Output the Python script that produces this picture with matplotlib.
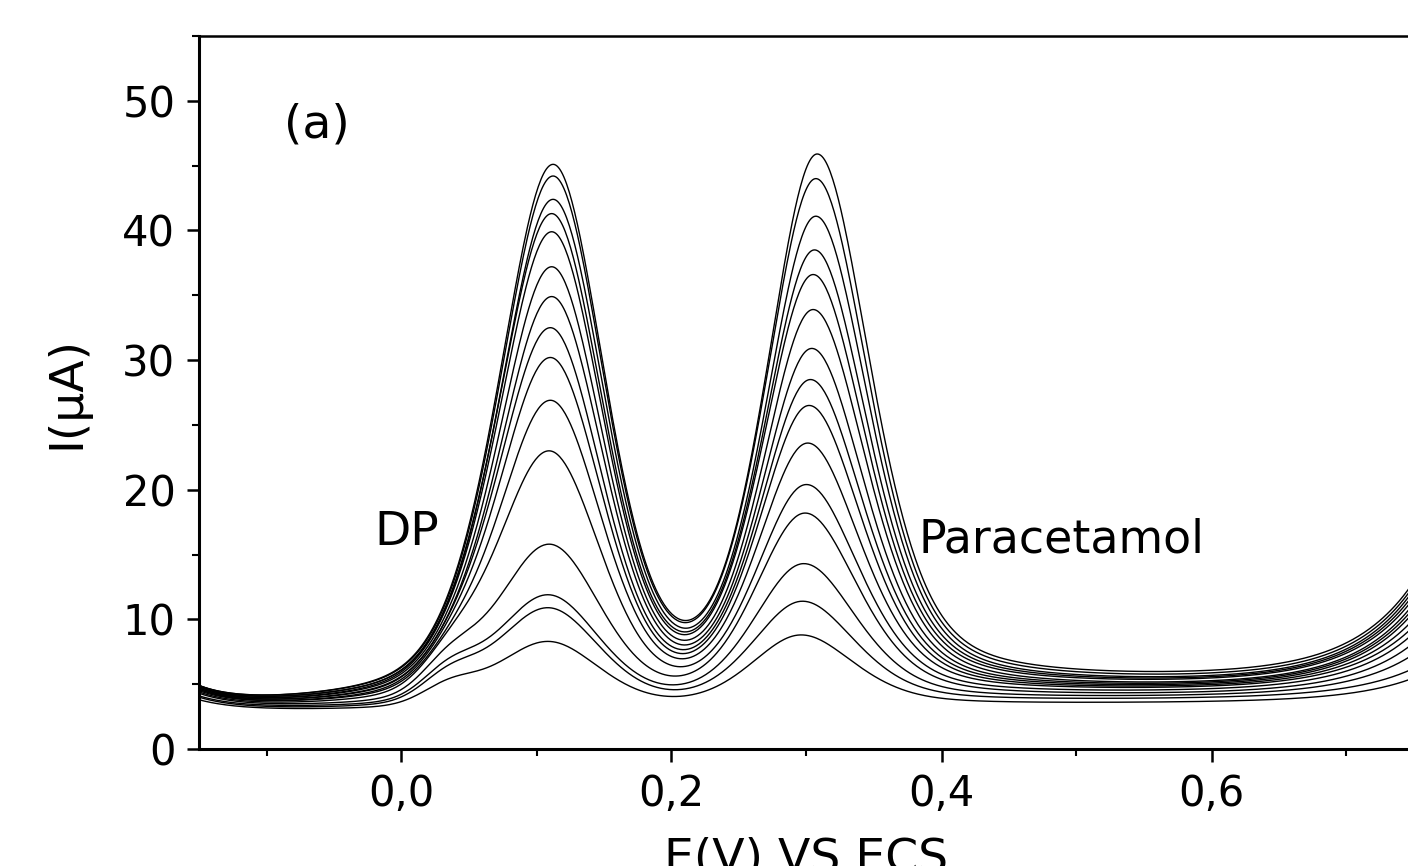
"""Differential pulse voltammograms: DP + paracetamol, recreated from figure (a)."""
import numpy as np
import matplotlib
matplotlib.use("Agg")
import matplotlib.pyplot as plt
from matplotlib.ticker import MultipleLocator, FuncFormatter

# ---------------------------------------------------------------------------
# Values (15 scans, lowest concentration first)
# ---------------------------------------------------------------------------
dp_peak = [8.3, 10.9, 11.9, 15.8, 23.0, 26.9, 30.2, 32.5, 34.9, 37.2, 39.9, 41.3, 42.4, 44.2, 45.1]
pa_peak = [8.8, 11.4, 14.3, 18.2, 20.4, 23.6, 26.5, 28.5, 30.9, 33.9, 36.6, 38.5, 41.1, 44.0, 45.9]
dp_pos = [0.108, 0.108, 0.108, 0.109, 0.109, 0.110, 0.110, 0.110, 0.111, 0.111, 0.111, 0.111, 0.112, 0.112, 0.112]
pa_pos = [0.296, 0.297, 0.298, 0.299, 0.300, 0.301, 0.302, 0.303, 0.304, 0.305, 0.305, 0.306, 0.307, 0.307, 0.308]
i_start = [3.8, 4.0, 4.1, 4.3, 4.4, 4.5, 4.6, 4.6, 4.7, 4.7, 4.8, 4.8, 4.9, 4.9, 4.9]      # at -0.15 V
i_min_left = [3.0, 3.1, 3.2, 3.3, 3.4, 3.5, 3.5, 3.6, 3.6, 3.7, 3.7, 3.8, 3.8, 3.9, 3.9]   # at -0.10 V
i_plateau = [3.6, 3.9, 4.1, 4.3, 4.5, 4.7, 4.8, 4.9, 5.0, 5.1, 5.3, 5.4, 5.5, 5.7, 5.9]    # at 0.55 V
i_end = [5.3, 6.0, 7.0, 7.8, 8.5, 9.0, 9.5, 10.0, 10.3, 10.6, 11.0, 11.3, 11.6, 11.9, 12.2]  # at 0.745 V
shoulder = [1.2, 1.6, 1.8, 2.0, 1.6, 1.2, 1.0, 0.8, 0.6, 0.5, 0.4, 0.3, 0.2, 0.2, 0.2]     # pre-wave near 0.035 V

E = np.linspace(-0.15, 0.75, 900)


def peak(x, x0, sl, sr, el, er):
    """split pseudo-Voigt, unit height"""
    s = np.where(x < x0, sl, sr)
    eta = np.where(x < x0, el, er)
    d = (x - x0) / s
    return (1 - eta) * np.exp(-0.5 * d ** 2) + eta / (1 + (d / 1.1774) ** 2)


def peaks_only(x, k, a_dp, a_pa):
    x = np.asarray(x, dtype=float)
    y = a_dp * peak(x, dp_pos[k], 0.040, 0.038, 0.35, 0.25)
    y = y + a_pa * peak(x, pa_pos[k], 0.037, 0.040, 0.32, 0.45)
    y = y + shoulder[k] * np.exp(-0.5 * ((x - 0.035) / 0.02) ** 2)
    return y


def background(x, k, a_dp, a_pa):
    # anchored so the full curve passes the read background values
    p = lambda v: peaks_only(v, k, a_dp, a_pa)
    a0 = i_min_left[k] - p(-0.10)
    a1 = i_plateau[k] - p(0.55)
    line = lambda v: a0 + (a1 - a0) * (v + 0.10) / 0.65
    b = line(x)
    b = b + (i_start[k] - p(-0.15) - line(-0.15)) * np.exp(-(x + 0.15) / 0.03)
    b = b + (i_end[k] - p(0.745) - line(0.745)) * np.exp((x - 0.745) / 0.045)
    return b


def scan(k):
    # peak heights were read as totals: solve for the amplitudes above background
    a_dp, a_pa = dp_peak[k], pa_peak[k]
    for _ in range(8):
        tot_dp = background(dp_pos[k], k, a_dp, a_pa) + peaks_only(dp_pos[k], k, a_dp, a_pa)
        tot_pa = background(pa_pos[k], k, a_dp, a_pa) + peaks_only(pa_pos[k], k, a_dp, a_pa)
        a_dp += dp_peak[k] - tot_dp
        a_pa += pa_peak[k] - tot_pa
    return background(E, k, a_dp, a_pa) + peaks_only(E, k, a_dp, a_pa)


plt.rcParams["font.family"] = ["DejaVu Sans"]

fig = plt.figure(figsize=(14.08, 8.66), dpi=100)
ax = fig.add_axes([199 / 1408, 117 / 866, (1414 - 199) / 1408, (749 - 36) / 866])

for k in range(len(dp_peak)):
    ax.plot(E, scan(k), color="black", lw=1.0)

ax.set_xlim(-0.15, 0.75)
ax.set_ylim(0, 55)
ax.xaxis.set_major_locator(MultipleLocator(0.2))
ax.xaxis.set_minor_locator(MultipleLocator(0.1))
ax.yaxis.set_major_locator(MultipleLocator(10))
ax.yaxis.set_minor_locator(MultipleLocator(5))
ax.xaxis.set_major_formatter(FuncFormatter(lambda v, p: f"{v:.1f}".replace(".", ",")))
ax.yaxis.set_major_formatter(FuncFormatter(lambda v, p: f"{v:.0f}"))

ax.tick_params(axis="both", which="major", direction="out", length=9, width=1.8, labelsize=30, pad=8)
ax.tick_params(axis="both", which="minor", direction="out", length=5, width=1.5)
ax.spines["left"].set_linewidth(2.2)
ax.spines["bottom"].set_linewidth(2.2)
ax.spines["top"].set_linewidth(1.8)
ax.spines["right"].set_linewidth(1.8)

ax.set_xlabel("E(V) VS ECS", fontsize=34)
ax.xaxis.set_label_coords(0.5, -(836 - 749) / 713)
ax.set_ylabel("I(\u03bcA)", fontsize=34, labelpad=24)

ax.text(-0.087, 48.1, "(a)", fontsize=34, va="center", ha="left")
ax.text(-0.020, 16.7, "DP", fontsize=34, va="center", ha="left")
ax.text(0.383, 16.1, "Paracetamol", fontsize=33, va="center", ha="left")

fig.savefig("out.png", dpi=100)
